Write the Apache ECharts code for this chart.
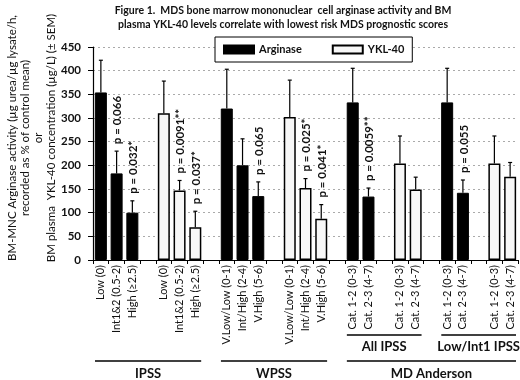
<!DOCTYPE html>
<html>
<head>
<meta charset="utf-8">
<script src="https://cdn.jsdelivr.net/npm/echarts@6/dist/echarts.min.js"></script>
<style>
  html, body { margin: 0; padding: 0; background: #fff; }
  #chart { width: 520px; height: 380px; }
</style>
</head>
<body>
<div id="chart"></div>
<script>
  // one slot per bar, '' = spacer between groups
  var categories = [
    'Low (0)', 'Int1&2 (0.5-2)', 'High (≥2.5)', '',
    'Low (0)', 'Int1&2 (0.5-2)', 'High (≥2.5)', '',
    'V.Low/Low (0-1)', 'Int/High (2-4)', 'V.High (5-6)', '',
    'V.Low/Low (0-1)', 'Int/High (2-4)', 'V.High (5-6)', '',
    'Cat. 1-2 (0-3)', 'Cat. 2-3 (4-7)', '',
    'Cat. 1-2 (0-3)', 'Cat. 2-3 (4-7)', '',
    'Cat. 1-2 (0-3)', 'Cat. 2-3 (4-7)', '',
    'Cat. 1-2 (0-3)', 'Cat. 2-3 (4-7)'
  ];
  var arginase = [354, 183, 100, null, null, null, null, null, 320, 200, 135, null, null, null, null, null,
                  333, 134, null, null, null, null, 333, 142, null, null, null];
  var ykl40 = [null, null, null, null, 310, 147, 69, null, null, null, null, null, 302, 152, 87, null,
               null, null, null, 204, 149, null, null, null, null, 204, 176];
  var sem = [68, 47, 25, null, 68, 21, 34, null, 83, 56, 30, null, 78, 20, 30, null,
             72, 18, null, 58, 26, null, 72, 27, null, 58, 30];
  var pValues = ['', 'p = 0.066', 'p = 0.032*', '', '', 'p = 0.0091**', 'p = 0.037*', '',
                 '', '', 'p = 0.065', '', '', 'p = 0.025*', 'p = 0.041*', '',
                 '', 'p = 0.0059**', '', '', '', '', '', 'p = 0.055', '', '', ''];
  var yTicks = { min: 0, max: 450, interval: 50 };

  // brackets under the axis: [label, first slot, last slot]
  var subGroups = [['All IPSS', 16, 20], ['Low/Int1 IPSS', 22, 26]];
  var mainGroups = [['IPSS', 0, 6], ['WPSS', 8, 14], ['MD Anderson', 16, 26]];

  var FONT = 'Lato, "Open Sans", sans-serif';

  var errData = [];
  for (var i = 0; i < categories.length; i++) {
    var v = arginase[i] != null ? arginase[i] : ykl40[i];
    if (v != null) errData.push([i, v, sem[i]]);
  }

  var chart = echarts.init(document.getElementById('chart'));

  var option = {
    animation: false,
    backgroundColor: '#fff',
    textStyle: { fontFamily: FONT },
    grid: { left: 93, right: 2, top: 47, bottom: 120 },
    legend: {
      left: 215, top: 37,
      padding: [7, 8],
      itemGap: 30,
      itemWidth: 30, itemHeight: 8,
      borderColor: '#000', borderWidth: 1,
      backgroundColor: '#fff',
      textStyle: { fontFamily: FONT, fontSize: 11, fontWeight: 'bold', color: '#111' },
      data: [{ name: 'Arginase', icon: 'rect' }, { name: 'YKL-40', icon: 'rect' }]
    },
    xAxis: {
      type: 'category',
      data: categories,
      axisLine: { lineStyle: { color: '#000', width: 1.2 } },
      axisTick: { show: true, length: 4, lineStyle: { color: '#000' } },
      axisLabel: {
        interval: 0, rotate: 90, margin: 5,
        fontFamily: FONT, fontSize: 11, color: '#111'
      }
    },
    yAxis: {
      type: 'value',
      min: yTicks.min, max: yTicks.max, interval: yTicks.interval,
      axisLine: { show: true, lineStyle: { color: '#000', width: 1.2 } },
      axisTick: { show: true, length: 5, lineStyle: { color: '#000' } },
      axisLabel: { margin: 12, fontFamily: FONT, fontSize: 11.5, fontWeight: 'bold', color: '#111' },
      splitLine: { lineStyle: { type: [2, 3], color: '#aaa' } }
    },
    series: [
      {
        name: 'Arginase', type: 'bar', data: arginase,
        barWidth: 12, barGap: '-100%',
        itemStyle: { color: '#000', borderColor: '#000', borderWidth: 1 }
      },
      {
        name: 'YKL-40', type: 'bar', data: ykl40,
        barWidth: 12, barGap: '-100%',
        itemStyle: { color: '#f7f7f7', borderColor: '#000', borderWidth: 1.5 }
      },
      {
        name: 'sem', type: 'custom', data: errData, z: 5,
        renderItem: function (params, api) {
          var idx = api.value(0);
          var base = api.coord([idx, api.value(1)]);
          var top = api.coord([idx, api.value(1) + api.value(2)]);
          var kids = [
            { type: 'line', shape: { x1: base[0], y1: base[1], x2: top[0], y2: top[1] },
              style: { stroke: '#000', lineWidth: 1.2 } },
            { type: 'line', shape: { x1: top[0] - 2, y1: top[1], x2: top[0] + 2, y2: top[1] },
              style: { stroke: '#000', lineWidth: 1.2 } }
          ];
          if (pValues[idx]) {
            kids.push({
              type: 'text', x: top[0] + 1, y: top[1] - 7, rotation: Math.PI / 2,
              style: { text: pValues[idx], textAlign: 'left', textVerticalAlign: 'middle',
                       font: 'bold 11.5px ' + FONT, fill: '#111' }
            });
          }
          return { type: 'group', children: kids };
        }
      }
    ]
  };
  chart.setOption(option);

  // annotations: title, y name, group brackets
  var step = chart.convertToPixel({ xAxisIndex: 0 }, 1) - chart.convertToPixel({ xAxisIndex: 0 }, 0);
  function bracket(g, yLine, yText, inset) {
    var x1 = chart.convertToPixel({ xAxisIndex: 0 }, g[1]) - step / 2 + inset;
    var x2 = chart.convertToPixel({ xAxisIndex: 0 }, g[2]) + step / 2 - inset;
    return [
      { type: 'line', shape: { x1: x1, y1: yLine, x2: x2, y2: yLine }, style: { stroke: '#000', lineWidth: 1.5 } },
      { type: 'text', x: (x1 + x2) / 2, y: yText,
        style: { text: g[0], textAlign: 'center', textVerticalAlign: 'middle',
                 font: 'bold 13px ' + FONT, fill: '#111' } }
    ];
  }
  var graphic = [
    { type: 'text', x: 283, y: 4,
      style: { text: 'Figure 1.  MDS bone marrow mononuclear  cell arginase activity and BM\nplasma YKL-40 levels correlate with lowest risk MDS prognostic scores',
               textAlign: 'center', textVerticalAlign: 'top', lineHeight: 14,
               font: 'bold 10.5px ' + FONT, fill: '#111' } },
    { type: 'text', x: 32, y: 138, rotation: Math.PI / 2,
      style: { text: 'BM-MNC Arginase activity (µg urea/µg lysate/h,\nrecorded as % of control mean)\nor\nBM plasma  YKL-40 concentration (µg/L) (± SEM)',
               textAlign: 'center', textVerticalAlign: 'middle', lineHeight: 13,
               font: '11.5px ' + FONT, fill: '#111' } }
  ];
  subGroups.forEach(function (g) { graphic = graphic.concat(bracket(g, 335, 347, 2)); });
  mainGroups.forEach(function (g) { graphic = graphic.concat(bracket(g, 361, 374, 2)); });
  chart.setOption({ graphic: graphic });
</script>
</body>
</html>
